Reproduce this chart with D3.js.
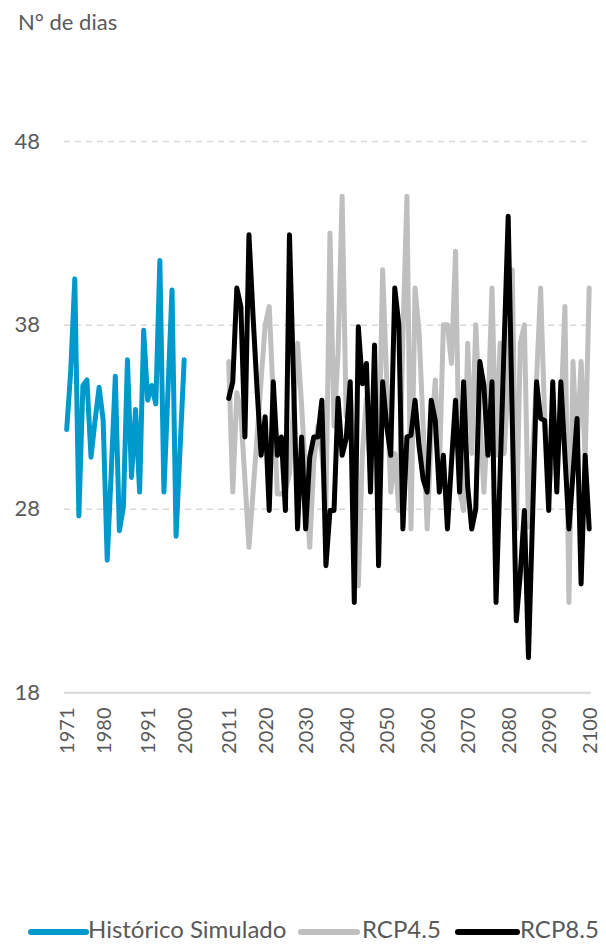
<!DOCTYPE html>
<html>
<head>
<meta charset="utf-8">
<script src="https://cdn.jsdelivr.net/npm/d3@7/dist/d3.min.js"></script>
<style>
  html, body { margin: 0; padding: 0; background: #fff; }
  svg { display: block; }
</style>
</head>
<body>
<svg id="chart" width="606" height="944"></svg>
<script>
// ---- Data ----
const yearsHist = d3.range(1971, 2001);
const yearsFut = d3.range(2011, 2101);
const historico = [32.3,35.5,40.5,27.6,34.7,35.0,30.8,32.8,34.6,32.8,
                   25.2,30.0,35.2,26.8,28.1,36.1,29.7,33.4,28.9,37.7,
                   33.9,34.7,33.7,41.5,28.9,34.4,39.9,26.5,31.3,36.1];
const rcp45 = [36.0,28.9,34.3,33.2,29.6,25.9,28.9,31.9,35.0,38.0,
               39.0,34.0,28.8,28.8,29.0,29.9,33.5,37.0,33.6,29.7,
               25.9,30.5,32.5,31.0,28.0,43.0,32.5,36.5,45.0,33.0,
               34.5,31.0,23.8,31.0,34.0,30.0,33.0,30.0,41.0,35.0,
               28.9,31.0,27.9,37.4,45.0,26.9,40.0,37.6,32.5,26.9,
               32.0,35.0,30.0,38.0,38.0,35.9,42.0,29.0,27.9,37.0,
               31.0,38.0,33.0,28.9,33.0,40.0,30.9,37.0,31.0,35.0,
               41.0,26.9,37.0,38.0,27.0,31.0,35.0,40.0,33.0,28.9,
               31.0,30.0,33.0,39.0,22.9,36.0,31.0,36.0,30.7,40.0];
const rcp85 = [34.0,34.9,40.0,39.0,31.9,42.9,38.5,34.5,30.9,33.0,
               27.9,34.9,30.9,31.9,27.9,42.9,35.0,26.9,31.9,26.9,
               30.8,31.9,31.9,33.9,24.9,27.9,27.9,34.0,30.9,31.8,
               34.9,22.9,37.9,34.8,35.9,28.9,36.9,24.9,34.9,32.5,
               30.9,40.0,38.0,26.9,31.9,32.0,33.9,31.4,29.6,28.9,
               33.9,32.8,28.9,30.9,26.9,30.5,33.9,28.9,34.9,29.2,
               26.9,28.0,36.0,34.7,30.9,34.9,22.9,29.9,36.9,43.9,
               32.9,21.9,24.5,27.9,19.9,27.4,34.9,32.9,32.8,27.9,
               34.9,28.9,34.9,30.9,26.9,29.9,32.9,23.9,30.9,26.9];
const xTickYears = [1971,1980,1991,2000,2011,2020,2030,2040,2050,2060,2070,2080,2090,2100];
const yTickValues = [18,28,38,48];
const seriesNames = ["Histórico Simulado","RCP4.5","RCP8.5"];
const seriesColors = ["#0099cc","#bfbfbf","#000000"];

// ---- Layout ----
const svg = d3.select("#chart");
const x = d3.scaleLinear().domain([1971, 2100]).range([66.7, 589.2]);
const y = d3.scaleLinear().domain([18, 48]).range([692.5, 141]);
const textColor = "#595959";

// Y title
svg.append("text")
  .attr("x", 18).attr("y", 30)
  .attr("font-family", "Lato, sans-serif").attr("font-size", 22)
  .attr("fill", textColor).text("N° de dias");

// Y axis with gridlines
const yAxis = d3.axisLeft(y).tickValues(yTickValues).tickSize(-(591 - 64)).tickPadding(24);
const gy = svg.append("g").attr("transform", "translate(64,0)").call(yAxis);
gy.select(".domain").remove();
gy.selectAll(".tick line")
  .attr("stroke", "#d9d9d9").attr("stroke-width", 1.5)
  .attr("stroke-dasharray", d => d === 18 ? null : "6,5");
gy.selectAll(".tick text")
  .attr("font-family", "Lato, sans-serif").attr("font-size", 22)
  .attr("fill", textColor);

// X axis
const xAxis = d3.axisBottom(x).tickValues(xTickYears).tickSize(0).tickFormat(d3.format("d"));
const gx = svg.append("g").attr("transform", "translate(0,692.5)").call(xAxis);
gx.select(".domain").attr("stroke", "#d9d9d9").attr("stroke-width", 1.5)
  .attr("d", "M64,0H591");
gx.selectAll(".tick text")
  .attr("font-family", "Lato, sans-serif").attr("font-size", 20)
  .attr("fill", textColor)
  .attr("text-anchor", "end")
  .attr("transform", "rotate(-90)")
  .attr("x", -15).attr("y", 0).attr("dy", "0.36em");

// Lines
const line = d3.line().x(d => x(d[0])).y(d => y(d[1]));
const histData = yearsHist.map((yr, i) => [yr, historico[i]]);
const r45Data = yearsFut.map((yr, i) => [yr, rcp45[i]]);
const r85Data = yearsFut.map((yr, i) => [yr, rcp85[i]]);

[[histData, 0], [r45Data, 1], [r85Data, 2]].forEach(([data, k]) => {
  svg.append("path").datum(data)
    .attr("fill", "none")
    .attr("stroke", seriesColors[k])
    .attr("stroke-width", 5)
    .attr("stroke-linejoin", "round")
    .attr("stroke-linecap", "round")
    .attr("d", line);
});

// Legend
const legendItems = [
  {x1: 31, x2: 86, tx: 88},
  {x1: 301, x2: 357, tx: 362},
  {x1: 458, x2: 517, tx: 520}
];
legendItems.forEach((it, k) => {
  svg.append("line").attr("x1", it.x1).attr("x2", it.x2)
    .attr("y1", 932).attr("y2", 932)
    .attr("stroke", seriesColors[k]).attr("stroke-width", 6)
    .attr("stroke-linecap", "round");
  svg.append("text").attr("x", it.tx).attr("y", 938)
    .attr("font-family", "Lato, sans-serif").attr("font-size", 24)
    .attr("fill", textColor).text(seriesNames[k]);
});
</script>
</body>
</html>
